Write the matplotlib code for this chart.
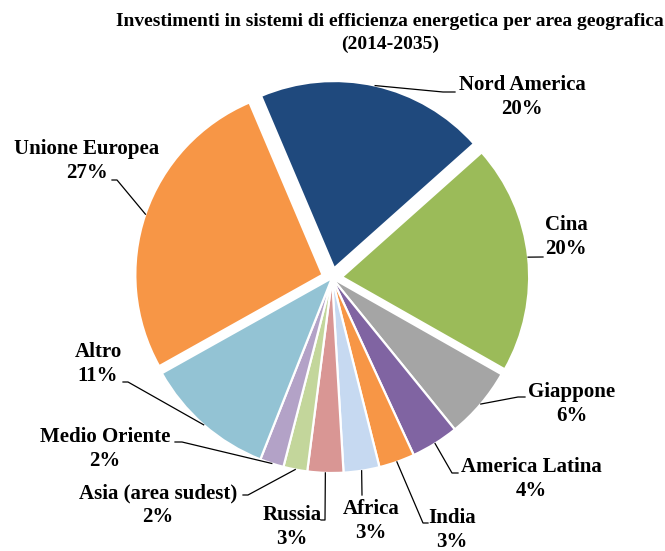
import numpy as np
import matplotlib.pyplot as plt

# Investimenti in efficienza energetica per area geografica (2014-2035)
regioni = ['Nord America', 'Cina', 'Giappone', 'America Latina', 'India', 'Africa',
           'Russia', 'Asia (area sudest)', 'Medio Oriente', 'Altro', 'Unione Europea']
quote = [20, 20, 6, 4, 3, 3, 3, 2, 2, 11, 27]
colori = ['#1F497D', '#9BBB59', '#A5A5A5', '#8064A2', '#F79646', '#C6D9F1',
          '#D99694', '#C3D69B', '#B3A2C7', '#93C3D4', '#F79646']
staccate = ['Nord America', 'Cina', 'Unione Europea']

# posizione delle etichette (pixel, origine in alto a sinistra)
pos_etichette = [(522, 97), (566, 237), (572, 404), (531, 479), (452, 530), (371, 521),
                 (292, 527), (158, 505), (105, 449), (98, 364), (87, 161)]
# punti di aggancio delle linee guida: (gomito, estremo vicino al testo)
guide = [((443, 92), (455, 92)), (None, (543, 257)), ((518, 397), (525, 397)),
         ((452, 473), (458, 473)), ((423, 523), (428, 523)), (None, (362, 495)),
         ((325, 520), (321, 520)), ((248, 495), (243, 495)), ((182, 442), (175, 442)),
         ((128, 382), (123, 382)), ((117, 180), (112, 180))]

W, H = 665, 551
CX, CY, R = 332, 278, 195


def px(p):
    """pixel immagine -> coordinate dati (y verso l'alto)"""
    return p[0], H - p[1]


fig = plt.figure(figsize=(W / 100, H / 100), dpi=100)
ax = fig.add_axes([0, 0, 1, 1])

# l'esplosione in ax.pie e' in unita' dati (qui pixel)
esplodi = [10 if r in staccate else 0 for r in regioni]
wedges, _ = ax.pie(quote, colors=colori, startangle=113, counterclock=False,
                   explode=esplodi, center=px((CX, CY)), radius=R,
                   wedgeprops=dict(edgecolor='white', linewidth=1.6))
for w, r in zip(wedges, regioni):
    if r in staccate:
        w.set_radius(R * 0.96)

ax.set_xlim(0, W)
ax.set_ylim(0, H)
ax.set_aspect('equal')
ax.axis('off')

font = dict(family='Liberation Serif', fontweight='bold', fontsize=15)

for w, nome, q, pos, (gomito, estremo) in zip(wedges, regioni, quote, pos_etichette, guide):
    ax.text(*px(pos), f'{nome}\n{q}%', ha='center', va='center', linespacing=1.25, **font)
    mid = np.deg2rad((w.theta1 + w.theta2) / 2)
    ancora = (w.center[0] + w.r * np.cos(mid), w.center[1] + w.r * np.sin(mid))
    punti = [ancora] + [px(p) for p in (gomito, estremo) if p is not None]
    xs, ys = zip(*punti)
    ax.plot(xs, ys, color='black', lw=0.9)

ax.text(390, H - 33, 'Investimenti in sistemi di efficienza energetica per area geografica\n(2014-2035)',
        ha='center', va='center', linespacing=1.45, family='Liberation Serif',
        fontweight='bold', fontsize=14)

fig.savefig('out.png', dpi=100)
